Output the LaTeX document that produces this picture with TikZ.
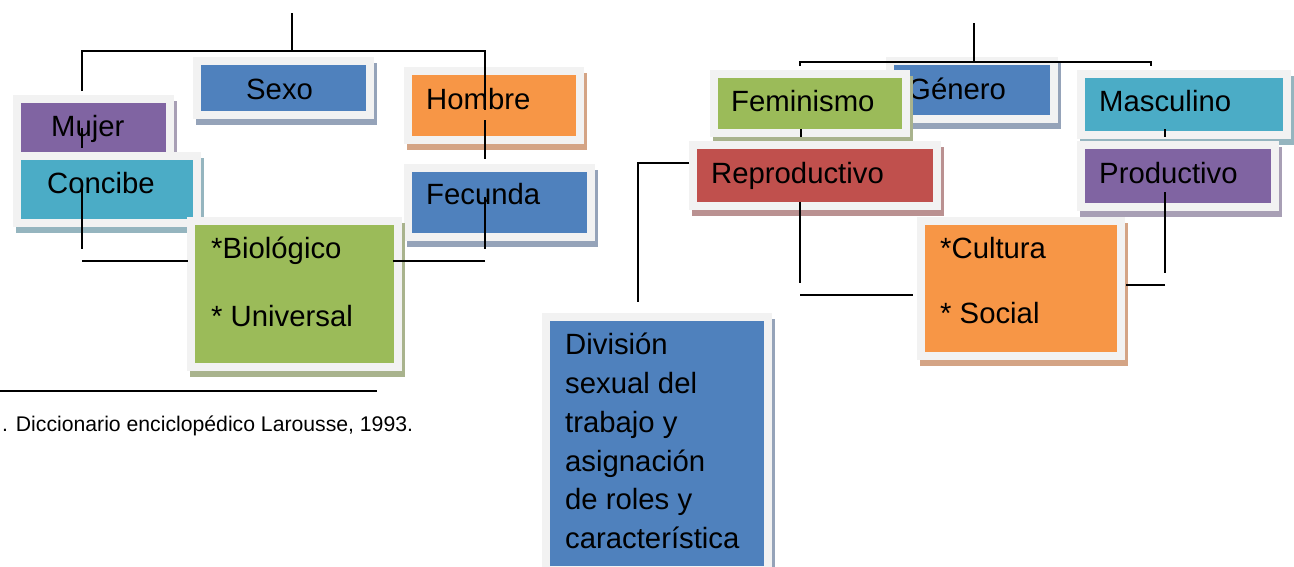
\documentclass[tikz,border=0pt]{standalone}
\usepackage{fontspec}
\setmainfont{Liberation Sans}
\definecolor{marco}{HTML}{F2F2F2}
\definecolor{azul}{HTML}{4F81BD}
\definecolor{naranja}{HTML}{F79646}
\definecolor{verde}{HTML}{9BBB59}
\definecolor{rojo}{HTML}{C0504D}
\definecolor{morado}{HTML}{8064A2}
\definecolor{turquesa}{HTML}{4BACC6}
\definecolor{sazul}{HTML}{95A3B9}
\definecolor{snaranja}{HTML}{D4A485}
\definecolor{sverde}{HTML}{A9B38D}
\definecolor{srojo}{HTML}{BA9191}
\definecolor{smorado}{HTML}{A89FB5}
\definecolor{sturquesa}{HTML}{95B5BF}

\begin{document}
\begin{tikzpicture}[x=1pt, y=-1pt,
caja/.style 2 args={draw=marco, fill=#1, line width=8pt, inner sep=0, anchor=north west,
  preaction={draw=#2, fill=#2, line width=8pt, transform canvas={shift={(3,6)}}}},
texto/.style={anchor=base west, inner sep=0, font=\fontsize{29.3}{35}\selectfont},
nota/.style={anchor=base west, inner sep=0, font=\fontsize{21.2}{24}\selectfont},
linea/.style={line width=1.6pt, black}]
\useasboundingbox (0,0) rectangle (1294,566);
\fill[white] (0,0) rectangle (1294,566);
% sexo
\node[caja={azul}{sazul}, minimum width=173pt, minimum height=54pt] (sexo) at (193,57) {};
\node[texto] (tsexo) at (246,99) {Sexo};
\node[caja={naranja}{snaranja}, minimum width=172pt, minimum height=69pt] (hombre) at (404,67) {};
\node[texto] (thombre) at (426,109) {Hombre};
\node[caja={azul}{sazul}, minimum width=183pt, minimum height=69pt] (fecunda) at (404,164) {};
\node[texto] (tfecunda) at (426,204) {Fecunda};
\node[caja={morado}{smorado}, minimum width=153pt, minimum height=57pt] (mujer) at (13,95) {};
\node[texto] (tmujer) at (51,136) {Mujer};
\node[caja={turquesa}{sturquesa}, minimum width=180pt, minimum height=67pt] (concibe) at (13,152) {};
\node[texto] (tconcibe) at (47,193) {Concibe};
\node[caja={verde}{sverde}, minimum width=207pt, minimum height=146pt] (biologico) at (187,217) {};
\node[texto] (tbio) at (211,258) {*Biológico};
\node[texto] (tuniv) at (211,326) {* Universal};
% genero
\node[caja={azul}{sazul}, minimum width=164pt, minimum height=58pt] (genero) at (886,57) {};
\node[texto] (tgenero) at (908,99) {Género};
\node[caja={verde}{sverde}, minimum width=192pt, minimum height=59pt] (feminismo) at (710,70) {};
\node[texto] (tfeminismo) at (731,111) {Feminismo};
\node[caja={rojo}{srojo}, minimum width=244pt, minimum height=61pt] (reproductivo) at (689,141) {};
\node[texto] (treproductivo) at (711,183) {Reproductivo};
\node[caja={turquesa}{sturquesa}, minimum width=206pt, minimum height=61pt] (masculino) at (1077,70) {};
\node[texto] (tmasculino) at (1099,111) {Masculino};
\node[caja={morado}{smorado}, minimum width=194pt, minimum height=62pt] (productivo) at (1077,141) {};
\node[texto] (tproductivo) at (1099,183) {Productivo};
\node[caja={naranja}{snaranja}, minimum width=200pt, minimum height=135pt] (cultura) at (917,217) {};
\node[texto] (tcultura) at (940,258) {*Cultura};
\node[texto] (tsocial) at (940,323) {* Social};
\node[caja={azul}{sazul}, minimum width=222pt, minimum height=253pt] (division) at (542,313) {};
\node[texto] (d1) at (565,354) {División};
\node[texto] (d2) at (565,393) {sexual del};
\node[texto] (d3) at (565,432) {trabajo y};
\node[texto] (d4) at (565,471) {asignación};
\node[texto] (d5) at (565,509) {de roles y};
\node[texto] (d6) at (565,548) {característica};
% conectores sexo
\coordinate (S0) at (292,13);
\coordinate (S1) at (292,51);
\coordinate (M0) at (82,51);
\coordinate (M1) at (82,91);
\coordinate (M2) at (82,128);
\coordinate (M3) at (82,148);
\coordinate (M4) at (82,182);
\coordinate (M5) at (82,249);
\coordinate (M6) at (82,261);
\coordinate (M7) at (188,261);
\coordinate (H0) at (485,51);
\coordinate (H1) at (485,110);
\coordinate (H2) at (485,120);
\coordinate (H3) at (485,159);
\coordinate (H4) at (485,197);
\coordinate (H5) at (485,249);
\coordinate (H6) at (485,261);
\coordinate (H7) at (393,261);
\draw[linea] (S0)--(S1);
\draw[linea] (M1)--(M0)--(H0)--(H1);
\draw[linea] (M2)--(M3);
\draw[linea] (M4)--(M5);
\draw[linea] (M6)--(M7);
\draw[linea] (H2)--(H3);
\draw[linea] (H4)--(H5);
\draw[linea] (H6)--(H7);
% conectores genero
\coordinate (G0) at (974,23);
\coordinate (G1) at (974,62);
\coordinate (F0) at (800,66);
\coordinate (F1) at (800,62);
\coordinate (P0) at (1151,62);
\coordinate (P1) at (1151,66);
\coordinate (F2) at (801,129);
\coordinate (F3) at (801,137);
\coordinate (R0) at (689,163);
\coordinate (R1) at (638,163);
\coordinate (R2) at (638,302);
\coordinate (R3) at (800,202);
\coordinate (R4) at (800,283);
\coordinate (R5) at (800,295);
\coordinate (R6) at (913,295);
\coordinate (P2) at (1165,129);
\coordinate (P3) at (1165,137);
\coordinate (P4) at (1165,192);
\coordinate (P5) at (1165,273);
\coordinate (P6) at (1165,285);
\coordinate (P7) at (1126,285);
\draw[linea] (G0)--(G1);
\draw[linea] (F0)--(F1)--(P0)--(P1);
\draw[linea] (F2)--(F3);
\draw[linea] (R0)--(R1)--(R2);
\draw[linea] (R3)--(R4);
\draw[linea] (R5)--(R6);
\draw[linea] (P2)--(P3);
\draw[linea] (P4)--(P5);
\draw[linea] (P6)--(P7);
% nota
\coordinate (N0) at (0,391);
\coordinate (N1) at (377,391);
\draw[line width=1.5pt] (N0)--(N1);
\node[nota] (larousse) at (2,431) {. Diccionario enciclopédico Larousse, 1993.};
\end{tikzpicture}
\end{document}
